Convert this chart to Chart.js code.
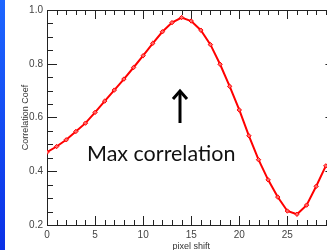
<!DOCTYPE html>
<html>
<head>
<meta charset="utf-8">
<script src="https://cdn.jsdelivr.net/npm/chart.js@4.4.0/dist/chart.umd.min.js"></script>
<style>
html, body { margin: 0; padding: 0; overflow: hidden; background: #fff; width: 327px; height: 250px; }
#wrap { position: absolute; left: 0; top: 0; width: 345px; height: 250px; }
#strip { position: absolute; left: 0; top: 0; width: 5px; height: 250px; background: linear-gradient(#1d66ff, #0a30e6); }
#arrow { position: absolute; left: 0; top: 0; }
#note { position: absolute; left: 87px; top: 140px; font: 21.5px Lato, sans-serif; color: #111; white-space: nowrap; }
</style>
</head>
<body>
<div id="wrap"><canvas id="corrChart" width="345" height="250"></canvas></div>
<div id="strip"></div>
<svg id="arrow" width="327" height="250">
  <line x1="180" y1="123" x2="180" y2="91" stroke="#000" stroke-width="3"/>
  <polyline points="173,99 180,91 187,99" fill="none" stroke="#000" stroke-width="3"/>
</svg>
<div id="note">Max correlation</div>
<script>
// pixel shift vs correlation coefficient
const shifts = [0, 1, 2, 3, 4, 5, 6, 7, 8, 9, 10, 11, 12, 13, 14, 15, 16, 17, 18, 19, 20, 21, 22, 23, 24, 25, 26, 27, 28, 29];
const corrValues = [0.471, 0.492, 0.517, 0.548, 0.579, 0.619, 0.661, 0.702, 0.743, 0.786,
                    0.830, 0.876, 0.919, 0.953, 0.972, 0.959, 0.925, 0.871, 0.798, 0.716,
                    0.628, 0.532, 0.443, 0.368, 0.304, 0.252, 0.240, 0.274, 0.344, 0.420];
const xRange = [0, 30];
const yRange = [0.2, 1.0];

// frame with inward ticks on all four sides
const frameTicks = {
    id: 'frameTicks',
    beforeDatasetsDraw(chart) {
        const { ctx, chartArea: a, scales: { x, y } } = chart;
        ctx.save();
        ctx.strokeStyle = '#222';
        ctx.lineWidth = 1;
        ctx.strokeRect(a.left + 0.5, a.top + 0.5, a.right - a.left, a.bottom - a.top);
        ctx.beginPath();
        for (let v = xRange[0]; v <= xRange[1]; v++) {
            const px = Math.round(x.getPixelForValue(v)) + 0.5;
            const len = v % 5 === 0 ? 9 : 5;
            ctx.moveTo(px, a.bottom); ctx.lineTo(px, a.bottom - len);
            ctx.moveTo(px, a.top); ctx.lineTo(px, a.top + len);
        }
        for (let i = 0; i <= 16; i++) {
            const py = Math.round(y.getPixelForValue(yRange[0] + i * 0.05)) + 0.5;
            const len = i % 4 === 0 ? 10 : 6;
            ctx.moveTo(a.left, py); ctx.lineTo(a.left + len, py);
            ctx.moveTo(a.right, py); ctx.lineTo(a.right - len, py);
        }
        ctx.stroke();
        ctx.restore();
    }
};

new Chart(document.getElementById('corrChart').getContext('2d'), {
    type: 'line',
    data: {
        labels: shifts,
        datasets: [{
            data: shifts.map((s, i) => ({ x: s, y: corrValues[i] })),
            borderColor: '#ff0000',
            backgroundColor: '#ff6a6a',
            borderWidth: 2,
            pointStyle: 'rectRot',
            pointRadius: 2.2,
            pointBorderWidth: 1,
            tension: 0
        }]
    },
    options: {
        responsive: false,
        animation: false,
        layout: { padding: { left: 12, top: 9, right: 8, bottom: 0 } },
        plugins: { legend: { display: false }, tooltip: { enabled: false } },
        scales: {
            x: {
                type: 'linear',
                min: xRange[0],
                max: xRange[1],
                afterFit(s) { s.height = 25; },
                grid: { display: false, drawTicks: false },
                border: { display: false },
                ticks: {
                    stepSize: 5,
                    padding: 4,
                    maxRotation: 0,
                    color: '#444',
                    font: { family: 'Liberation Sans', size: 10 }
                },
                title: {
                    display: true,
                    text: 'pixel shift',
                    color: '#333',
                    padding: { top: 0, bottom: -2 },
                    font: { family: 'Liberation Sans', size: 9 }
                }
            },
            y: {
                min: yRange[0],
                max: yRange[1],
                afterFit(s) { s.width = 35; },
                grid: { display: false, drawTicks: false },
                border: { display: false },
                ticks: {
                    stepSize: 0.2,
                    padding: 4,
                    color: '#444',
                    font: { family: 'Liberation Sans', size: 10 },
                    callback: v => v.toFixed(1)
                },
                title: {
                    display: true,
                    text: 'Correlation Coef',
                    color: '#333',
                    padding: { top: 8, bottom: 0 },
                    font: { family: 'Liberation Sans', size: 9 }
                }
            }
        }
    },
    plugins: [frameTicks]
});
</script>
</body>
</html>
